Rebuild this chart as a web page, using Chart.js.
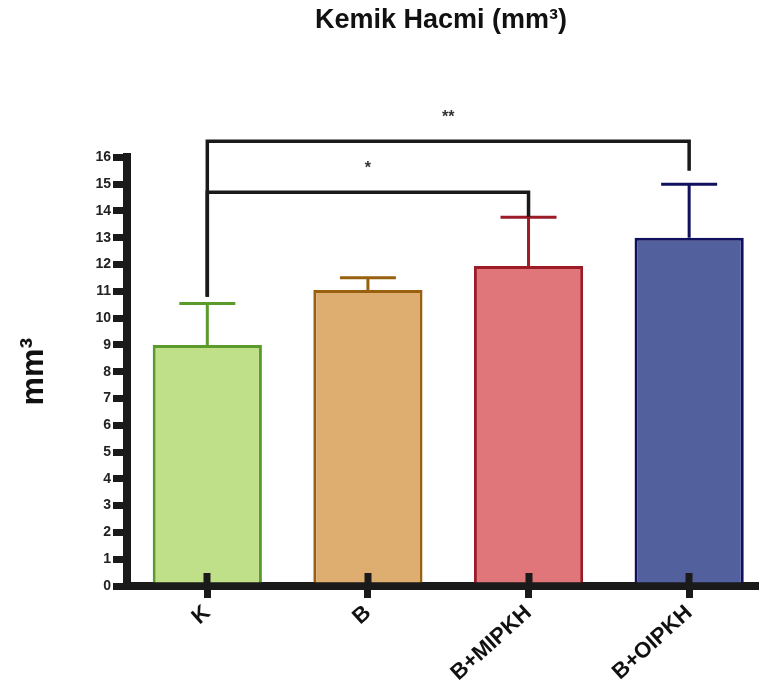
<!DOCTYPE html>
<html>
<head>
<meta charset="utf-8">
<script src="https://cdn.jsdelivr.net/npm/chart.js@4.4.0/dist/chart.umd.min.js"></script>
<style>
html, body { margin: 0; padding: 0; background: #fff; }
#wrap { width: 765px; height: 695px; }
</style>
</head>
<body>
<div id="wrap"><canvas id="boneChart" width="765" height="695"></canvas></div>
<script>
//----------------------------- Data -----------------------------------
const groups = ['K', 'B', 'B+MIPKH', 'B+OIPKH'];
const volumes = [9.0, 11.05, 11.95, 13.0];
const errors = [1.55, 0.46, 1.82, 2.0];
const fillColors = ['#bfdf88', '#ddae6f', '#e0757a', '#53609e'];
const edgeColors = ['#5b9b2b', '#99600f', '#9b1b27', '#10105e'];

// significance brackets: group indexes, bracket height, leg ends (mm³)
const bracketFrom = [0, 0];
const bracketTo = [2, 3];
const bracketLevel = [14.7, 16.6];
const bracketFootFrom = [10.8, 10.8];
const bracketFootTo = [13.78, 15.5];
const bracketLabel = ['*', '**'];

const fontFamily = '"Liberation Sans", Arial, sans-serif';
const axisColor = '#1a1a1a';

//----------------------------- Plugin -----------------------------------
const errorBars = {
    id: 'errorBars',
    afterDatasetsDraw(chart) {
        const { ctx, scales: { x, y } } = chart;
        ctx.save();
        // tick marks crossing into the plot
        ctx.fillStyle = axisColor;
        groups.forEach((g, i) => {
            const px = Math.round(x.getPixelForValue(i));
            ctx.fillRect(px - 3.5, y.bottom - 13, 7, 13);
        });
        // error bars
        ctx.lineWidth = 3;
        volumes.forEach((v, i) => {
            const px = x.getPixelForValue(i);
            const top = y.getPixelForValue(v);
            const end = y.getPixelForValue(v + errors[i]);
            ctx.strokeStyle = edgeColors[i];
            ctx.beginPath();
            ctx.moveTo(px, top);
            ctx.lineTo(px, end);
            ctx.moveTo(px - 28, end);
            ctx.lineTo(px + 28, end);
            ctx.stroke();
        });
        // brackets
        ctx.strokeStyle = axisColor;
        ctx.lineWidth = 3.5;
        ctx.lineJoin = 'miter';
        ctx.fillStyle = '#333';
        ctx.font = 'bold 16px ' + fontFamily;
        ctx.textAlign = 'center';
        ctx.textBaseline = 'middle';
        bracketFrom.forEach((from, i) => {
            const x1 = x.getPixelForValue(from);
            const x2 = x.getPixelForValue(bracketTo[i]);
            const level = y.getPixelForValue(bracketLevel[i]);
            ctx.beginPath();
            ctx.moveTo(x1, y.getPixelForValue(bracketFootFrom[i]));
            ctx.lineTo(x1, level);
            ctx.lineTo(x2, level);
            ctx.lineTo(x2, y.getPixelForValue(bracketFootTo[i]));
            ctx.stroke();
            ctx.fillText(bracketLabel[i], (x1 + x2) / 2, level - 24);
        });
        ctx.restore();
    }
};

//----------------------------- Chart -----------------------------------
const ctx = document.getElementById('boneChart');
new Chart(ctx, {
    type: 'bar',
    data: {
        datasets: [{
            data: volumes.map((v, i) => ({ x: i, y: v })),
            backgroundColor: fillColors,
            borderColor: edgeColors,
            borderWidth: 3,
            barPercentage: 0.68,
            categoryPercentage: 1
        }]
    },
    options: {
        responsive: false,
        animation: false,
        layout: { padding: { left: 0, right: 10, top: 0, bottom: 0 } },
        plugins: {
            legend: { display: false },
            tooltip: { enabled: false },
            title: {
                display: true,
                fullSize: false,
                text: 'Kemik Hacmi (mm³)',
                color: '#111',
                font: { family: fontFamily, size: 27, weight: 'bold' },
                padding: { top: 4, bottom: 121 }
            }
        },
        scales: {
            x: {
                type: 'linear',
                min: -0.5,
                max: 3.41,
                offset: false,
                z: 1,
                afterBuildTicks: s => { s.ticks = s.ticks.filter(t => Number.isInteger(t.value)); },
                afterFit: s => { s.height = 109; },
                grid: { offset: false, drawOnChartArea: false, tickLength: 12, lineWidth: 7, color: axisColor },
                border: { display: true, width: 8, color: axisColor },
                ticks: {
                    stepSize: 1,
                    autoSkip: false,
                    minRotation: 42,
                    maxRotation: 42,
                    padding: 2,
                    color: '#111',
                    font: { family: fontFamily, size: 22, weight: 'bold' },
                    callback: v => groups[v] ?? ''
                }
            },
            y: {
                min: 0,
                max: 16,
                z: 1,
                afterFit: s => { s.width = 127; },
                grid: { drawOnChartArea: false, tickLength: 14, lineWidth: 7, color: axisColor },
                border: { display: true, width: 8, color: axisColor },
                ticks: {
                    stepSize: 1,
                    padding: 2,
                    color: '#222',
                    font: { family: fontFamily, size: 14, weight: 'bold' }
                },
                title: {
                    display: true,
                    text: 'mm³',
                    color: '#111',
                    font: { family: fontFamily, size: 32, weight: 'bold' },
                    padding: { top: 15, bottom: 0 }
                }
            }
        }
    },
    plugins: [errorBars]
});
</script>
</body>
</html>
